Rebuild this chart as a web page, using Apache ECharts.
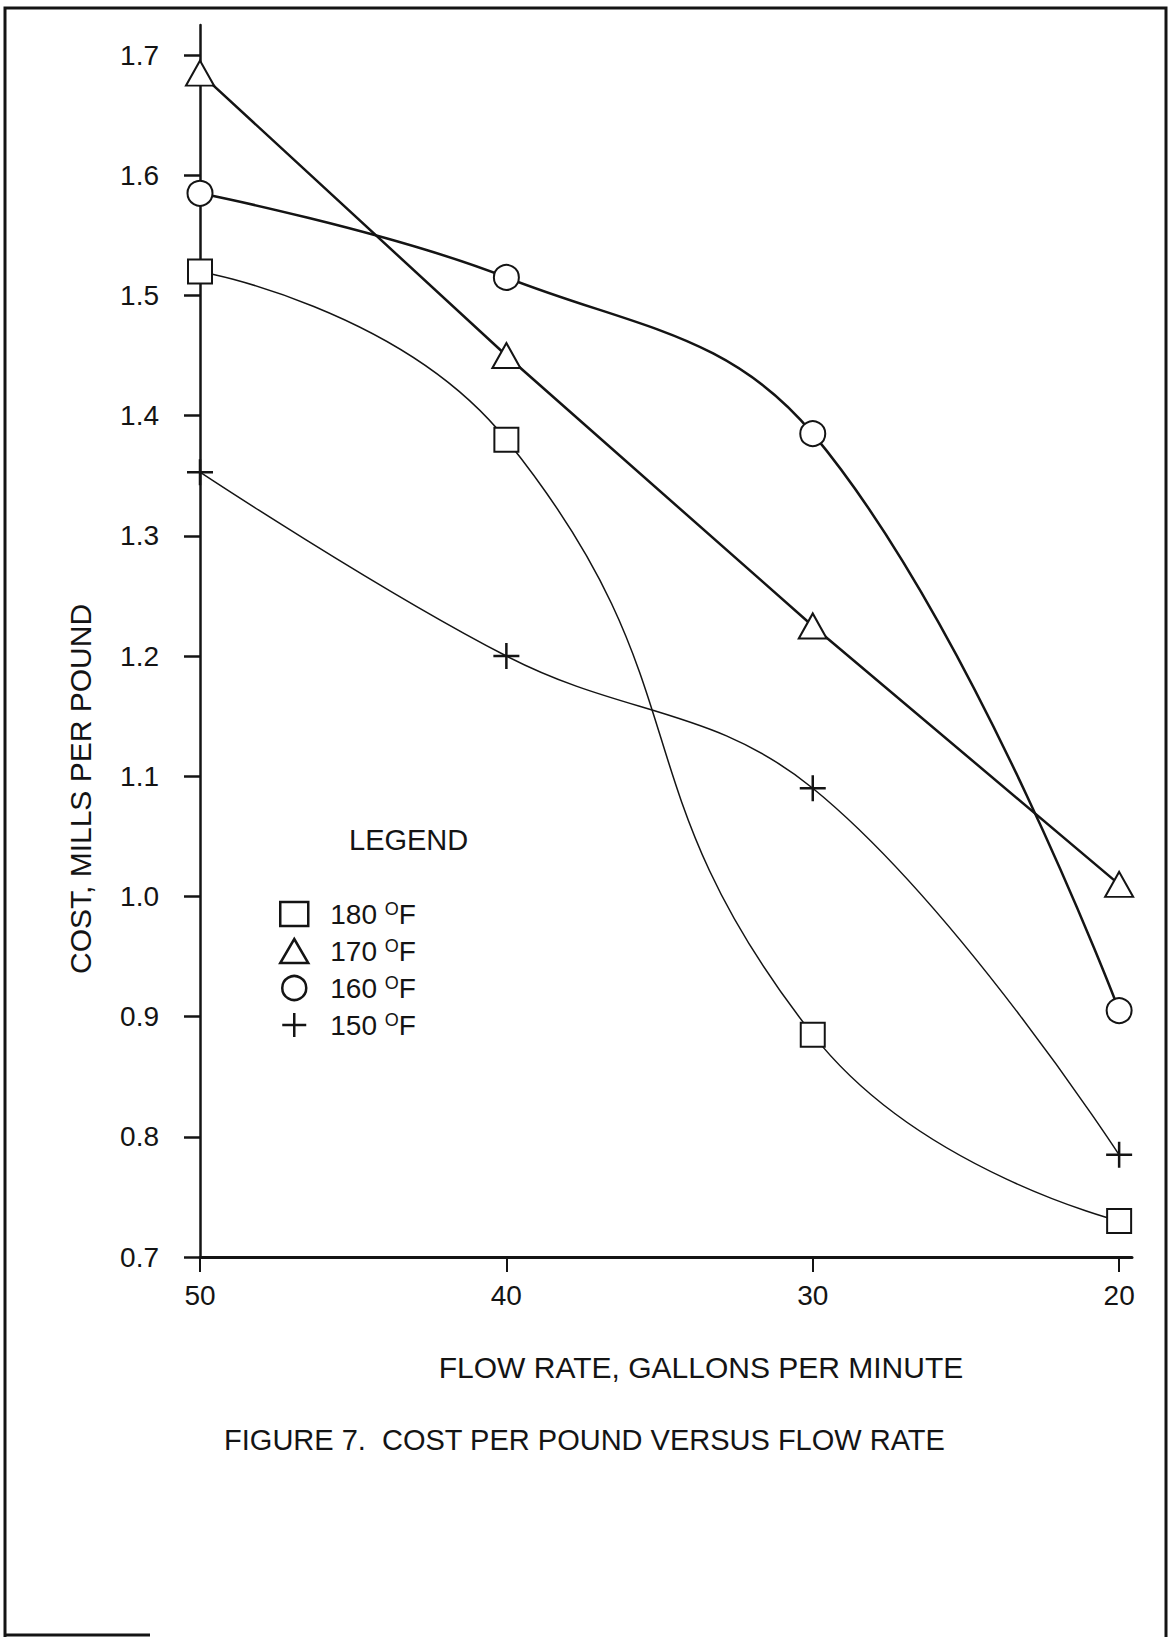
<!DOCTYPE html>
<html lang="en">
<head>
<meta charset="UTF-8">
<title>Figure 7</title>
<style>
  html, body { margin: 0; padding: 0; background: #fff; }
</style>
</head>
<body>
<div id="main" style="width:1169px;height:1637px;"></div>
<script src="https://cdn.jsdelivr.net/npm/echarts@6/dist/echarts.min.js"></script>
<script>
    // flow rate, gallons per minute (axis runs 50 -> 20)
    var flowRate = [50, 40, 30, 20];

    // cost, mills per pound, one array per water temperature
    var cost180 = [1.52, 1.38, 0.885, 0.73];
    var cost170 = [1.685, 1.45, 1.225, 1.01];
    var cost160 = [1.585, 1.515, 1.385, 0.905];
    var cost150 = [1.353, 1.20, 1.09, 0.785];

    var tempNames = ['180 °F', '170 °F', '160 °F', '150 °F'];
    var yTicks = [0.7, 0.8, 0.9, 1.0, 1.1, 1.2, 1.3, 1.4, 1.5, 1.6, 1.7];
    var xTicks = [50, 40, 30, 20];

    var ink = '#141414';
    var font = 'Liberation Sans';
    var plusPath = 'path://M0,10L20,10M10,0L10,20';

    function pairs(ys) {
        return flowRate.map(function (x, i) { return [x, ys[i]]; });
    }

    var legendIcons = ['rect', 'triangle', 'circle', plusPath];

    var chart = echarts.init(document.getElementById('main'), null, {renderer: 'svg'});

    var option = {
        backgroundColor: '#fff',
        animation: false,
        title: {
            text: 'FIGURE 7.  COST PER POUND VERSUS FLOW RATE',
            left: 'center',
            top: 1425,
            padding: 0,
            textStyle: {fontFamily: font, fontSize: 29, fontWeight: 'normal', color: ink}
        },
        grid: {left: 200, right: 37, top: 25, bottom: 380},
        xAxis: {
            type: 'value',
            inverse: true,
            min: 19.58,
            max: 50,
            splitLine: {show: false},
            axisLine: {onZero: false, lineStyle: {color: ink, width: 3}},
            axisTick: {customValues: xTicks, length: 15, lineStyle: {color: ink, width: 2}},
            axisLabel: {customValues: xTicks, margin: 24, fontFamily: font, fontSize: 28, color: ink}
        },
        yAxis: {
            type: 'value',
            min: 0.7,
            max: 1.725,
            splitLine: {show: false},
            axisLine: {show: true, onZero: false, lineStyle: {color: ink, width: 2.5}},
            axisTick: {show: true, customValues: yTicks, length: 16, lineStyle: {color: ink, width: 2.5}},
            axisLabel: {
                customValues: yTicks,
                margin: 41,
                fontFamily: font,
                fontSize: 28,
                color: ink,
                formatter: function (v) { return v.toFixed(1); }
            }
        },
        legend: {
            orient: 'vertical',
            left: 279,
            top: 900,
            padding: 0,
            selectedMode: false,
            itemWidth: 28,
            itemHeight: 24,
            itemGap: 9,
            data: tempNames.map(function (n, i) { return {name: n, icon: legendIcons[i]}; }),
            itemStyle: {color: '#fff', borderColor: ink, borderWidth: 2.5},
            formatter: function (name) {
                return '{t|' + name.split(' ')[0] + ' }{d|O}{t|F}';
            },
            textStyle: {
                padding: [0, 0, 0, 17],
                rich: {
                    t: {fontFamily: font, fontSize: 28, color: ink, lineHeight: 28},
                    d: {fontFamily: font, fontSize: 18, color: ink, lineHeight: 18, verticalAlign: 'top'}
                }
            }
        },
        graphic: [
            {
                type: 'polyline',
                shape: {points: [[5, 1637], [5, 8], [1166, 8], [1166, 1637]]},
                style: {stroke: ink, lineWidth: 3, fill: null}
            },
            {
                type: 'line',
                shape: {x1: 5, y1: 1635, x2: 150, y2: 1635},
                style: {stroke: ink, lineWidth: 3}
            },
            {
                type: 'text',
                x: 80,
                y: 789,
                rotation: Math.PI / 2,
                style: {
                    text: 'COST, MILLS PER POUND',
                    fontFamily: font, fontSize: 30, fill: ink,
                    align: 'center', verticalAlign: 'middle'
                }
            },
            {
                type: 'text',
                x: 701,
                y: 1367,
                style: {
                    text: 'FLOW RATE, GALLONS PER MINUTE',
                    fontFamily: font, fontSize: 30, fill: ink,
                    align: 'center', verticalAlign: 'middle'
                }
            },
            {
                type: 'text',
                x: 349,
                y: 840,
                style: {
                    text: 'LEGEND',
                    fontFamily: font, fontSize: 29, fill: ink,
                    align: 'left', verticalAlign: 'middle'
                }
            }
        ],
        series: [
            {
                name: tempNames[0],
                type: 'line',
                data: pairs(cost180),
                smooth: 0.5,
                symbol: 'emptyRect',
                symbolSize: 24,
                itemStyle: {color: ink, borderWidth: 2.5},
                lineStyle: {color: ink, width: 1.5}
            },
            {
                name: tempNames[1],
                type: 'line',
                data: pairs(cost170),
                smooth: false,
                symbol: 'emptyTriangle',
                symbolSize: [28, 25],
                itemStyle: {color: ink, borderWidth: 2.5},
                lineStyle: {color: ink, width: 2.5}
            },
            {
                name: tempNames[2],
                type: 'line',
                data: pairs(cost160),
                smooth: 0.4,
                symbol: 'emptyCircle',
                symbolSize: 25,
                itemStyle: {color: ink, borderWidth: 2.5},
                lineStyle: {color: ink, width: 2.5}
            },
            {
                name: tempNames[3],
                type: 'line',
                data: pairs(cost150),
                smooth: 0.4,
                symbol: plusPath,
                symbolSize: 26,
                itemStyle: {color: ink, borderColor: ink, borderWidth: 2.5},
                lineStyle: {color: ink, width: 1.5}
            }
        ]
    };

    chart.setOption(option);
</script>
</body>
</html>
